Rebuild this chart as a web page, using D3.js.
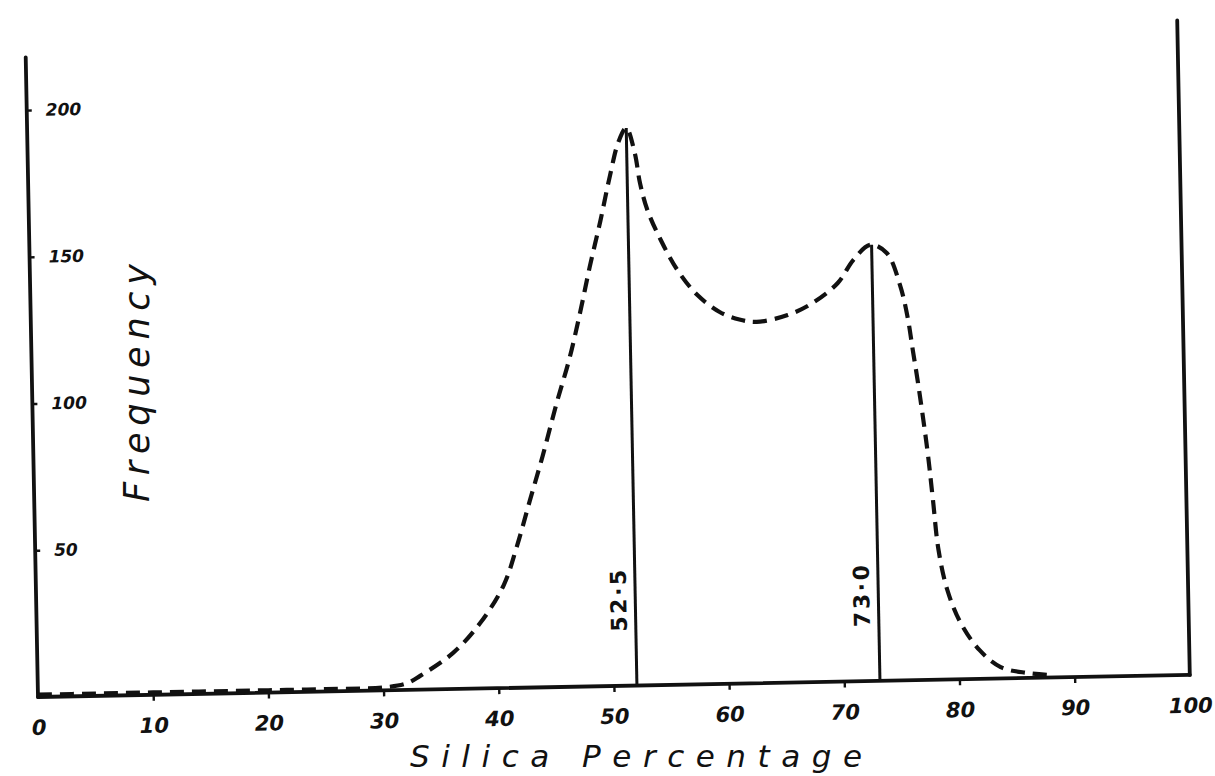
<!DOCTYPE html>
<html>
<head>
<meta charset="utf-8">
<script src="https://cdn.jsdelivr.net/npm/d3@7"></script>
<style>
  html, body { margin: 0; padding: 0; background: #fff; }
  svg { display: block; }
</style>
</head>
<body>
<svg id="chart" width="1215" height="776"></svg>
<script>
// ---- data ----
const silica = [0, 5, 10, 15, 20, 25, 30, 32, 33.2, 36.1, 38.5, 40.6, 41.8, 43.0, 44.2, 45.5, 46.7, 47.7, 48.6, 49.6, 50.5, 51.3, 52.0, 52.7, 53.1, 53.7, 54.8, 56.2, 57.9, 59.8, 61.5, 63.0, 65.7, 67.9, 70.1, 71.5, 73.0, 74.4, 75.5, 76.1, 76.5, 76.9, 77.6, 78.0, 78.4, 79.1, 80.2, 81.8, 83.6, 85.9, 88];
const frequency = [0.8, 0.8, 0.8, 0.8, 0.8, 0.8, 1.0, 2.2, 4.7, 12.3, 22.3, 35, 48, 63.5, 78.8, 96.7, 112, 127.6, 142.9, 158.5, 173.7, 185.3, 190, 181.4, 171.2, 161.9, 151.7, 141.3, 132.6, 126.7, 124, 123.1, 125.2, 129.2, 135.8, 143.6, 148.6, 145.7, 134.7, 123.8, 112.5, 101.2, 78.3, 61.3, 44.2, 30.5, 19.2, 9.8, 3.9, 1.7, 0.8];
const markerPositions = [52.0, 73.1];
const markerLabels = ["52·5", "73·0"];
const markerTops = [190, 148.6];
const xTickValues = [0, 10, 20, 30, 40, 50, 60, 70, 80, 90, 100];
const yTickValues = [50, 100, 150, 200];
const xTitle = "Silica Percentage";
const yTitle = "Frequency";

// ---- layout ----
const svg = d3.select("#chart");
const originX = 38, originY = 697;
const x = d3.scaleLinear().domain([0, 100]).range([originX, originX + 1152]);
const y = d3.scaleLinear().domain([0, 200]).range([originY, originY - 587]);
const numFont = "'DejaVu Sans', sans-serif";

const g = svg.append("g").attr("transform", `rotate(-1.1, ${originX}, ${originY})`);

// frame
const frame = g.append("g").attr("stroke", "#111").attr("stroke-linecap", "round").attr("fill", "none");
frame.append("line").attr("x1", x(0)).attr("y1", y(0)).attr("x2", x(0)).attr("y2", y(218)).attr("stroke-width", 3.8);
frame.append("line").attr("x1", x(0)).attr("y1", y(0)).attr("x2", x(100)).attr("y2", y(0)).attr("stroke-width", 3.8);
frame.append("line").attr("x1", x(100)).attr("y1", y(0)).attr("x2", x(100)).attr("y2", y(223)).attr("stroke-width", 3.8);

// x axis ticks + labels
const xAxis = g.append("g").attr("transform", `translate(0,${y(0)})`)
  .call(d3.axisBottom(x).tickValues(xTickValues).tickSize(6).tickPadding(17).tickFormat(d3.format("d")));
xAxis.select(".domain").remove();
xAxis.selectAll(".tick line").attr("stroke", "#111").attr("stroke-width", 2.4)
  .filter(d => d === 0 || d === 100).remove();
xAxis.selectAll(".tick text").attr("fill", "#111")
  .style("font-family", numFont).style("font-size", "21px").style("font-weight", "bold").style("font-style", "italic");

// y axis ticks + labels
const yAxis = g.append("g").attr("transform", `translate(${x(0)},0)`)
  .call(d3.axisRight(y).tickValues(yTickValues).tickSize(5).tickPadding(14).tickFormat(d3.format("d")));
yAxis.select(".domain").remove();
yAxis.selectAll(".tick line").attr("stroke", "#111").attr("stroke-width", 2.4);
yAxis.selectAll(".tick text").attr("fill", "#111")
  .style("font-family", numFont).style("font-size", "17px").style("font-weight", "bold").style("font-style", "italic");

// marker vertical lines
const pts = silica.map((s, i) => [s, frequency[i]]);
g.selectAll(".marker").data(markerPositions).enter().append("line")
  .attr("class", "marker")
  .attr("x1", d => x(d)).attr("x2", d => x(d))
  .attr("y1", y(0)).attr("y2", (d, i) => y(markerTops[i]))
  .attr("stroke", "#111").attr("stroke-width", 3);

g.selectAll(".mlabel").data(markerPositions).enter().append("text")
  .attr("class", "mlabel")
  .attr("transform", d => `translate(${x(d) - 9},${y(29)}) rotate(-90)`)
  .attr("text-anchor", "middle")
  .attr("textLength", 62).attr("lengthAdjust", "spacing")
  .attr("fill", "#111")
  .style("font-family", numFont).style("font-size", "22px").style("font-weight", "bold")
  .text((d, i) => markerLabels[i]);

// dashed frequency curve
const line = d3.line().x(d => x(d[0])).y(d => y(d[1])).curve(d3.curveCatmullRom.alpha(0.5));
g.append("path").datum(pts)
  .attr("d", line)
  .attr("fill", "none")
  .attr("stroke", "#111")
  .attr("stroke-width", 4.2)
  .attr("stroke-dasharray", "14,8");

// titles
svg.append("text")
  .attr("x", 410).attr("y", 767)
  .attr("textLength", 452).attr("lengthAdjust", "spacing")
  .attr("fill", "#111")
  .style("font-family", "'DejaVu Sans', sans-serif").style("font-size", "31px").style("font-style", "italic")
  .text(xTitle);

svg.append("text")
  .attr("transform", "translate(149,502) rotate(-90)")
  .attr("textLength", 238).attr("lengthAdjust", "spacing")
  .attr("fill", "#111")
  .style("font-family", "'DejaVu Sans', sans-serif").style("font-size", "35px").style("font-style", "italic")
  .text(yTitle);
</script>
</body>
</html>
